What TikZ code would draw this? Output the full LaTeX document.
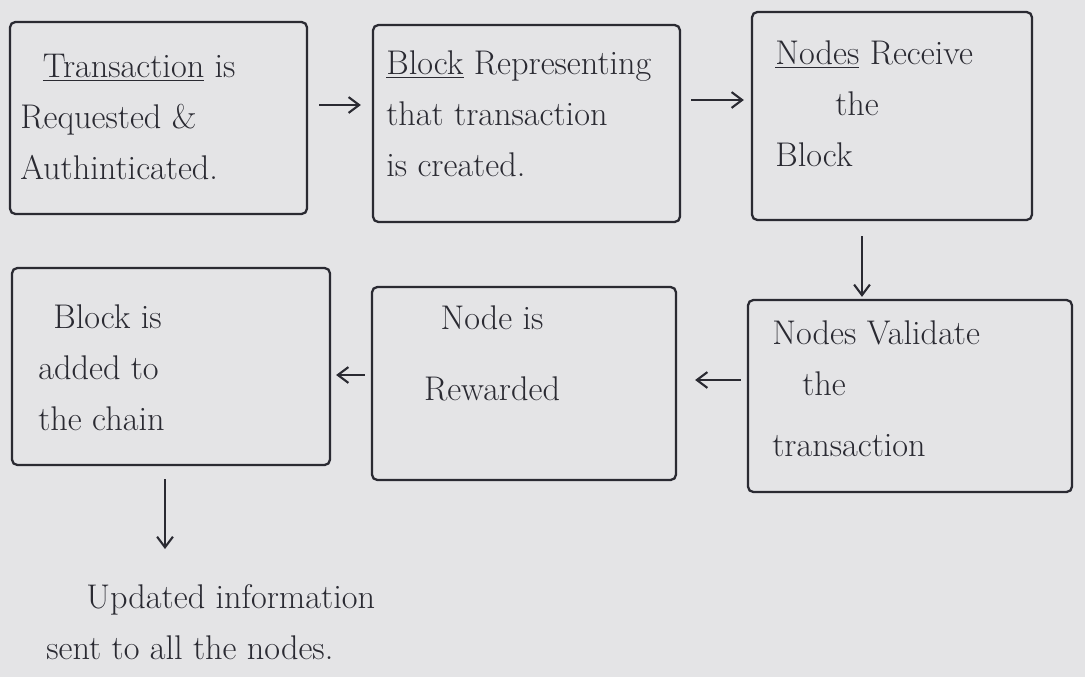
\documentclass[tikz,border=0pt]{standalone}
\usetikzlibrary{arrows.meta}
\definecolor{paper}{HTML}{E4E4E6}
\definecolor{ink}{HTML}{2A2A32}
\begin{document}
\begin{tikzpicture}[x=0.02cm,y=-0.02cm,
  box/.style={draw=ink, line width=1.3pt, rounded corners=3pt, inner sep=0pt},
  txt/.style={text=ink, font=\fontsize{19.5}{29}\selectfont, align=left, anchor=north west, inner sep=0pt},
  arr/.style={draw=ink, line width=1.2pt, -{Straight Barb[length=6pt,width=9pt]}}]
\fill[paper] (0,0) rectangle (1085,677);
\useasboundingbox (0,0) rectangle (1085,677);

\node[box, minimum width=5.94cm, minimum height=3.84cm] (b1) at (158.5,118) {};
\node[box, minimum width=6.14cm, minimum height=3.94cm] (b2) at (526.5,123.5) {};
\node[box, minimum width=5.6cm, minimum height=4.16cm] (b3) at (892,116) {};
\node[box, minimum width=6.48cm, minimum height=3.84cm] (b4) at (910,396) {};
\node[box, minimum width=6.08cm, minimum height=3.86cm] (b5) at (524,383.5) {};
\node[box, minimum width=6.36cm, minimum height=3.94cm] (b6) at (171,366.5) {};

\node[txt] (t1) at (20,54) {\hspace*{0.45cm}\underline{Transaction} is\\Requested \&\\Authinticated.};
\node[txt] (t2) at (386,50) {\underline{Block} Representing\\that transaction\\is created.};
\node[txt] (t3) at (775,40) {\underline{Nodes} Receive\\\hspace*{1.2cm}the\\Block};
\node[txt] (t4) at (772,320) {Nodes Validate\\\hspace*{0.6cm}the\\[0.2cm]transaction};
\node[txt, align=center, anchor=north] (t5) at (492,305) {Node is\\[0.4cm]Rewarded};
\node[txt] (t6) at (38,304) {\hspace*{0.3cm}Block is\\added to\\the chain};
\node[txt] (t7) at (46,584) {\hspace*{0.8cm}Updated information\\sent to all the nodes.};

\draw[arr, shorten <=0.22cm, shorten >=0.22cm] (b1.east |- 0,105) -- (b2.west |- 0,105);
\draw[arr, shorten <=0.2cm, shorten >=0.14cm] (b2.east |- 0,100) -- (b3.west |- 0,100);
\draw[arr, shorten <=0.3cm, shorten >=0.04cm] (b3.south -| 862,0) -- (b4.north -| 862,0);
\draw[arr, shorten <=0.12cm, shorten >=0.36cm] (b4.west |- 0,380) -- (b5.east |- 0,380);
\draw[arr, shorten <=0.12cm, shorten >=0.1cm] (b5.west |- 0,375) -- (b6.east |- 0,375);
\draw[arr, shorten <=0.26cm, shorten >=0.7cm] (b6.south -| 165,0) -- (t7.north -| 165,0);
\end{tikzpicture}
\end{document}
